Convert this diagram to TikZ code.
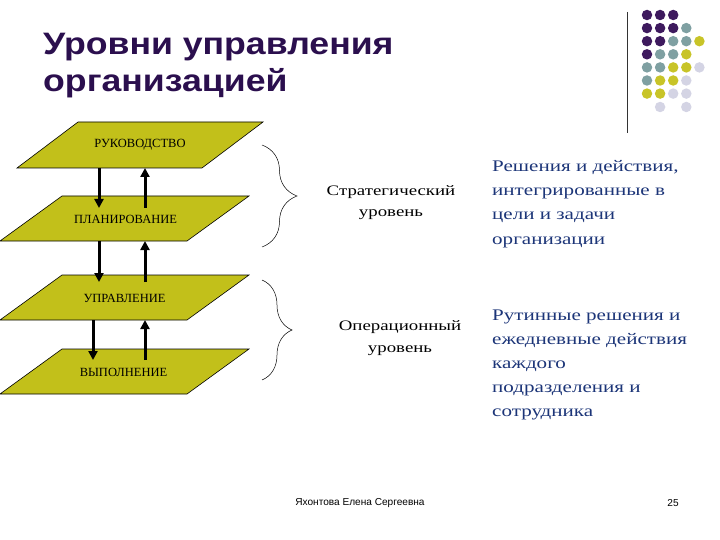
\documentclass[tikz,border=0pt]{standalone}
\usepackage{fontspec}
\setmainfont{Liberation Serif}
\setsansfont{Liberation Sans}
\newfontfamily\wideserif[FakeStretch=1.3]{Liberation Serif}
\newfontfamily\widesans[FakeStretch=1.15]{Liberation Sans}
\usetikzlibrary{arrows.meta,decorations.pathreplacing}
\definecolor{olive}{HTML}{C2C01A}
\definecolor{titlecol}{HTML}{2B0F4E}
\definecolor{bluetext}{HTML}{1C3578}
\definecolor{dP}{HTML}{3E1A5E}
\definecolor{dT}{HTML}{7FA0A2}
\definecolor{dY}{HTML}{C8C428}
\definecolor{dL}{HTML}{D4D4E4}
\begin{document}
\begin{tikzpicture}[x=1pt,y=-1pt,
  plane/.style={draw=black,line width=0.6pt,fill=olive},
  lvl/.style={font=\fontsize{12.5}{13}\selectfont,inner sep=0pt},
  flow/.style={line width=3pt,-{Triangle[width=9pt,length=9pt]}},
  brc/.style={decorate,decoration={brace,amplitude=#1},line width=0.5pt},
  ttl/.style={anchor=base west,inner sep=0pt,font=\widesans\bfseries\fontsize{31}{36}\selectfont,text=titlecol},
  midtxt/.style={font=\wideserif\fontsize{14.5}{18}\selectfont,anchor=base,inner sep=0pt},
  righttxt/.style={font=\wideserif\fontsize{16.2}{20}\selectfont,text=bluetext,anchor=base west,inner sep=0pt},
  foot/.style={font=\sffamily\fontsize{10.1}{12}\selectfont,inner sep=0pt},
  dot/.style={circle,minimum size=10.5pt,inner sep=0pt}]
\useasboundingbox (0,0) rectangle (720,540);
% title
\node[ttl] (title1) at (43,55) {Уровни управления};
\node[ttl] (title2) at (43,92) {организацией};
% decoration
\draw[line width=0.8pt,black!80] (627,12) -- (627,133);
\foreach \r/\row in {0/{P,P,P},1/{P,P,P,T},2/{P,P,T,T,Y},3/{P,T,T,Y},4/{T,T,Y,Y,L},5/{T,Y,Y,L},6/{Y,Y,L,L}}{
  \foreach \c [count=\i from 0] in \row {
    \node[dot,fill=d\c] (d\r\i) at (647+13.1*\i,15+13.1*\r) {};
  }
}
\node[dot,fill=dL] (d71) at (660.1,107) {};
\node[dot,fill=dL] (d73) at (686.3,107) {};
% planes
\draw[plane] (78,122) -- (263,122) -- (202,168) -- (17,168) -- cycle;
\draw[plane] (62,196) -- (249,196) -- (187,241) -- (0,241) -- cycle;
\draw[plane] (62,275) -- (249,275) -- (187,320) -- (0,320) -- cycle;
\draw[plane] (62,349) -- (249,349) -- (187,394) -- (0,394) -- cycle;
\node[lvl] (p1) at (140,145) {РУКОВОДСТВО};
\node[lvl] (p2) at (125.5,219) {ПЛАНИРОВАНИЕ};
\node[lvl] (p3) at (124.5,298) {УПРАВЛЕНИЕ};
\node[lvl] (p4) at (123.5,372) {ВЫПОЛНЕНИЕ};
% arrow anchors
\coordinate (a1s) at (99,168);  \coordinate (a1e) at (99,208);
\coordinate (b1s) at (145,208); \coordinate (b1e) at (145,168);
\coordinate (a2s) at (99,241);  \coordinate (a2e) at (99,282);
\coordinate (b2s) at (145,282); \coordinate (b2e) at (145,241);
\coordinate (a3s) at (93,320);  \coordinate (a3e) at (93,360);
\coordinate (b3s) at (145,360); \coordinate (b3e) at (145,320);
\draw[flow] (a1s) -- (a1e);
\draw[flow] (b1s) -- (b1e);
\draw[flow] (a2s) -- (a2e);
\draw[flow] (b2s) -- (b2e);
\draw[flow] (a3s) -- (a3e);
\draw[flow] (b3s) -- (b3e);
% braces
\coordinate (br1t) at (262,145); \coordinate (br1b) at (262,247);
\coordinate (br2t) at (262,280); \coordinate (br2b) at (262,380);
\draw[brc=35] (br1t) -- (br1b);
\draw[brc=30] (br2t) -- (br2b);
% middle labels
\node[midtxt] (strat1) at (391,196) {Стратегический};
\node[midtxt] (strat2) at (391,217) {уровень};
\node[midtxt] (oper1) at (400,330) {Операционный};
\node[midtxt] (oper2) at (400,352) {уровень};
% right texts
\node[righttxt] (r11) at (492,172) {Решения и действия,};
\node[righttxt] (r12) at (492,196) {интегрированные в};
\node[righttxt] (r13) at (492,220) {цели и задачи};
\node[righttxt] (r14) at (492,244) {организации};
\node[righttxt] (r21) at (492,320) {Рутинные решения и};
\node[righttxt] (r22) at (492,344) {ежедневные действия};
\node[righttxt] (r23) at (492,368) {каждого};
\node[righttxt] (r24) at (492,392) {подразделения и};
\node[righttxt] (r25) at (492,416) {сотрудника};
% footer
\node[foot] (author) at (360,503) {Яхонтова Елена Сергеевна};
\node[foot] (page) at (673,503) {25};
\end{tikzpicture}
\end{document}
